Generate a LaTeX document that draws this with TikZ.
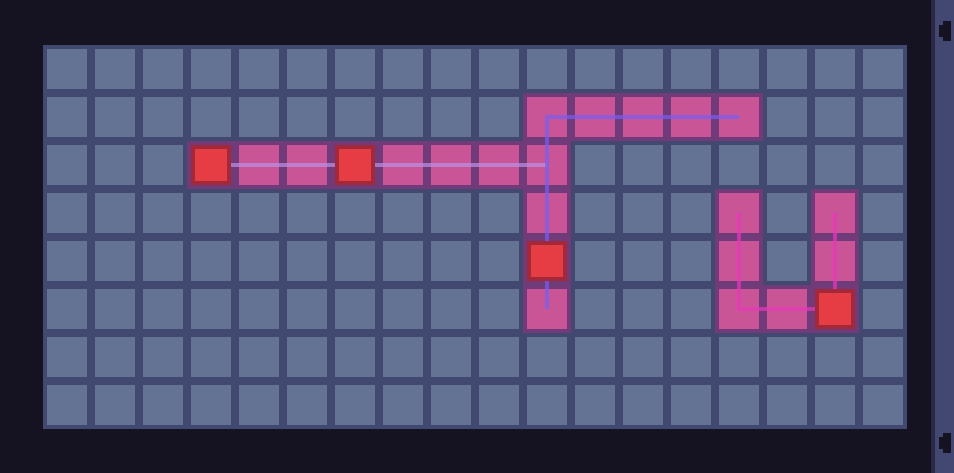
\documentclass[tikz,border=0pt]{standalone}
\usepackage{tikz}
\usetikzlibrary{calc}
\definecolor{bgDark}{HTML}{151222}
\definecolor{gridLine}{HTML}{424971}
\definecolor{cellFill}{HTML}{647394}
\definecolor{selGap}{HTML}{713A78}
\definecolor{selFill}{HTML}{C95597}
\definecolor{headFill}{HTML}{E63C44}
\definecolor{headEdge}{HTML}{A3283A}
\definecolor{barFill}{HTML}{424871}
\definecolor{barEdge}{HTML}{2B2946}
\definecolor{linkLilac}{HTML}{BC91E8}
\definecolor{linkViolet}{HTML}{755FF4}
\definecolor{linkMagenta}{HTML}{EA37BB}
\tikzset{
  cellbox/.style  = {fill=cellFill},
  selgap/.style   = {fill=selGap},
  selbox/.style   = {fill=selFill},
  headbox/.style  = {fill=headFill, draw=headEdge, line width=4pt},
  link1/.style    = {linkLilac,   line width=4pt, opacity=0.7},
  link2/.style    = {linkViolet,  line width=4pt, opacity=0.7},
  link3/.style    = {linkMagenta, line width=4pt, opacity=0.7},
}

\begin{document}
\begin{tikzpicture}[x=1pt, y=-1pt]
  \fill[bgDark] (0,0) rectangle (954,473);
  \fill[gridLine] (43,45) rectangle (907,429);

  \foreach \i in {0,...,17}
    \foreach \j in {0,...,7} {
      \coordinate (c\i-\j) at (67+48*\i, 69+48*\j);
      \fill[cellbox] ($(c\i-\j)+(-20,-20)$) rectangle +(40,40);
    }

  \foreach \i/\j in {3/2,4/2,5/2,6/2,7/2,8/2,9/2,10/2,
                     10/1,11/1,12/1,13/1,14/1,10/3,10/4,10/5,
                     14/3,14/4,14/5,15/5,16/3,16/4,16/5} {
    \fill[selgap] ($(c\i-\j)+(-24,-24)$) rectangle +(48,48);
    \fill[selbox] ($(c\i-\j)+(-20,-20)$) rectangle +(40,40);
  }

  \draw[link1] (c3-2) -- (c10-2);
  \draw[link2] (c14-1) -- (c10-1) -- (c10-5);
  \draw[link3] (c14-3) -- (c14-5) -- (c16-5) -- (c16-3);

  \foreach \i/\j in {3/2,6/2,10/4,16/5}
    \draw[headbox] ($(c\i-\j)+(-18,-18)$) rectangle +(36,36);

  % scroll bar
  \fill[barEdge] (931,0) rectangle (935,473);
  \fill[barFill] (935,0) rectangle (954,473);
  \fill[bgDark] (943,21) rectangle (951,41);
  \fill[bgDark] (939,25) rectangle (943,37);
  \fill[bgDark] (943,433) rectangle (951,453);
  \fill[bgDark] (939,437) rectangle (943,449);
\end{tikzpicture}
\end{document}
